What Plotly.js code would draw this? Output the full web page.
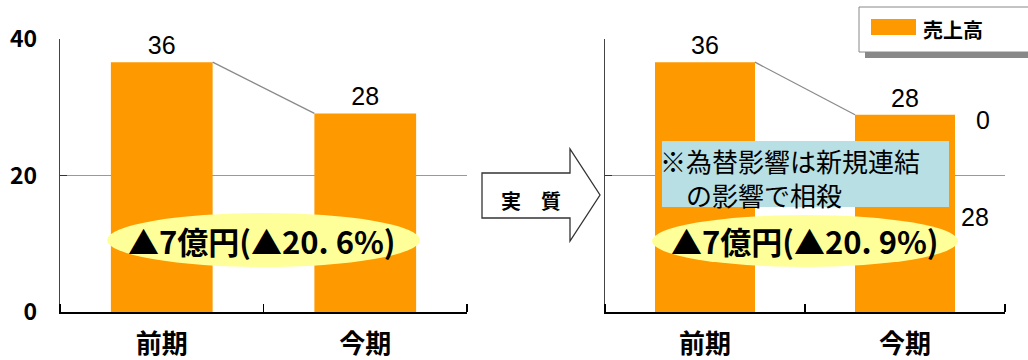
<!DOCTYPE html>
<html>
<head>
<meta charset="utf-8">
<script src="https://cdn.plot.ly/plotly-3.0.1.min.js"></script>
<style>html,body{margin:0;padding:0;background:#fff;}#chart{width:1028px;height:360px;}</style>
</head>
<body>
<div id="chart"></div>
<script>
// ---- data ----
const categories = ['前期', '今期'];
const seriesName = '売上高';
const salesLeft = [36.6, 29.1];
const salesRight = [36.6, 28.9];
const barLabels = ['36', '28'];
const yTicks = [0, 20, 40];
const extraLabelsRight = ['0', '28'];
const changeLeft = '▲7億円(▲20. 6%)';
const changeRight = '▲7億円(▲20. 9%)';
const noteLines = ['※為替影響は新規連結', '\u3000の影響で相殺'];
const arrowLabel = '実　質';

// ---- helpers ----
const W = 1028, H = 360;
const X = p => p / W;
const Y = p => 1 - p / H;
const CJK = '"Noto Sans CJK JP", "Noto Sans", sans-serif';
const ARIAL = '"Liberation Sans", Arial, sans-serif';
const ORANGE = '#FF9900';
const barWidth = 0.5;
const xIdx = categories.map((c, i) => i);

function barTrace(vals, xa, ya) {
  return {
    type: 'bar', x: xIdx, y: vals, xaxis: xa, yaxis: ya,
    width: barWidth, name: seriesName, showlegend: false,
    marker: {color: ORANGE, line: {width: 0}},
    text: barLabels, textposition: 'outside', cliponaxis: false,
    textfont: {family: ARIAL, size: 25, color: '#000'},
    hoverinfo: 'skip'
  };
}
function connector(vals, xa, ya) {
  return {
    type: 'scatter', mode: 'lines', xaxis: xa, yaxis: ya, showlegend: false,
    x: [xIdx[0] + barWidth / 2, xIdx[1] - barWidth / 2], y: [vals[0], vals[1]],
    line: {color: '#8a8a8a', width: 1.3}, hoverinfo: 'skip'
  };
}

const data = [
  barTrace(salesLeft, 'x', 'y'),
  connector(salesLeft, 'x', 'y'),
  barTrace(salesRight, 'x2', 'y2'),
  connector(salesRight, 'x2', 'y2')
];

const yDomain = [Y(312), Y(39)];
function xAxis(dom) {
  return {
    domain: dom, range: [-0.5, 1.5], tickmode: 'array', tickvals: xIdx, ticktext: categories,
    ticks: '', showline: true, linecolor: '#000', linewidth: 1.5, showgrid: false, zeroline: false,
    minor: {tickmode: 'array', tickvals: [-0.5, 0.5, 1.5], ticks: 'inside', ticklen: 8, tickcolor: '#000', tickwidth: 1.5, showgrid: false},
    tickfont: {family: CJK, size: 26, weight: 700, color: '#000'}, ticklabelstandoff: 8, fixedrange: true
  };
}
function yAxis(showLabels) {
  return {
    domain: yDomain, range: [0, 40], tickmode: 'array', tickvals: yTicks,
    showgrid: true, gridcolor: '#999', gridwidth: 1, showline: true, linecolor: '#444', linewidth: 1.2,
    ticks: 'inside', ticklen: 7, tickcolor: '#333', zeroline: false, showticklabels: showLabels,
    tickfont: {family: CJK, size: 23, weight: 700, color: '#000'}, ticklabelstandoff: 17, fixedrange: true
  };
}

const arrowPath = 'M' + X(482) + ',' + Y(173) + ' L' + X(570) + ',' + Y(173) + ' L' + X(570) + ',' + Y(149) +
  ' L' + X(600) + ',' + Y(195) + ' L' + X(570) + ',' + Y(241) + ' L' + X(570) + ',' + Y(218) +
  ' L' + X(482) + ',' + Y(218) + ' Z';

const rect = (x0, y0, x1, y1, fill, line) => ({
  type: 'rect', xref: 'paper', yref: 'paper', x0: X(x0), x1: X(x1), y0: Y(y1), y1: Y(y0),
  fillcolor: fill, line: line || {width: 0}, layer: 'above'
});

const shapes = [
  // legend (shadow, box, swatch)
  rect(865, 13, 1046, 58, '#888'),
  rect(859, 7, 1040, 52, '#fff', {color: '#888', width: 1}),
  rect(871, 19, 916, 35, ORANGE),
  // ellipses
  {type: 'circle', xref: 'paper', yref: 'paper', x0: X(107), x1: X(420), y0: Y(267), y1: Y(213), fillcolor: '#FFFF99', line: {width: 0}, layer: 'above'},
  {type: 'circle', xref: 'paper', yref: 'paper', x0: X(652), x1: X(958), y0: Y(267), y1: Y(215), fillcolor: '#FFFF99', line: {width: 0}, layer: 'above'},
  // note box
  rect(662, 141, 949, 207, '#B8DFE3'),
  // arrow
  {type: 'path', xref: 'paper', yref: 'paper', path: arrowPath, fillcolor: '#fff', line: {color: '#333', width: 1.3}, layer: 'above'}
];

const ann = (x, y, text, font, opts) => Object.assign({
  xref: 'paper', yref: 'paper', x: X(x), y: Y(y), text: text, showarrow: false,
  xanchor: 'center', yanchor: 'middle', font: font
}, opts || {});

const annotations = [
  ann(262, 240, changeLeft, {family: CJK, size: 31, weight: 700, color: '#000'}),
  ann(805, 241, changeRight, {family: CJK, size: 31, weight: 700, color: '#000'}),
  ann(658, 177, noteLines.join('<br>'), {family: CJK, size: 26, color: '#000'}, {xanchor: 'left', align: 'left'}),
  ann(531, 200, arrowLabel, {family: CJK, size: 20, weight: 700, color: '#000'}),
  ann(983, 120, extraLabelsRight[0], {family: ARIAL, size: 25, color: '#000'}),
  ann(975, 217, extraLabelsRight[1], {family: ARIAL, size: 25, color: '#000'}),
  ann(921, 29, seriesName, {family: CJK, size: 20, weight: 700, color: '#000'}, {xanchor: 'left'})
];

const layout = {
  width: W, height: H, autosize: false,
  margin: {l: 0, r: 0, t: 0, b: 0, pad: 0},
  paper_bgcolor: '#fff', plot_bgcolor: 'rgba(0,0,0,0)',
  showlegend: false,
  barmode: 'group',
  xaxis: Object.assign(xAxis([X(60), X(467)]), {anchor: 'y'}),
  yaxis: Object.assign(yAxis(true), {anchor: 'x'}),
  xaxis2: Object.assign(xAxis([X(605), X(1005)]), {anchor: 'y2'}),
  yaxis2: Object.assign(yAxis(false), {anchor: 'x2'}),
  shapes: shapes, annotations: annotations
};

Plotly.newPlot('chart', data, layout, {staticPlot: true, displayModeBar: false});
</script>
</body>
</html>
